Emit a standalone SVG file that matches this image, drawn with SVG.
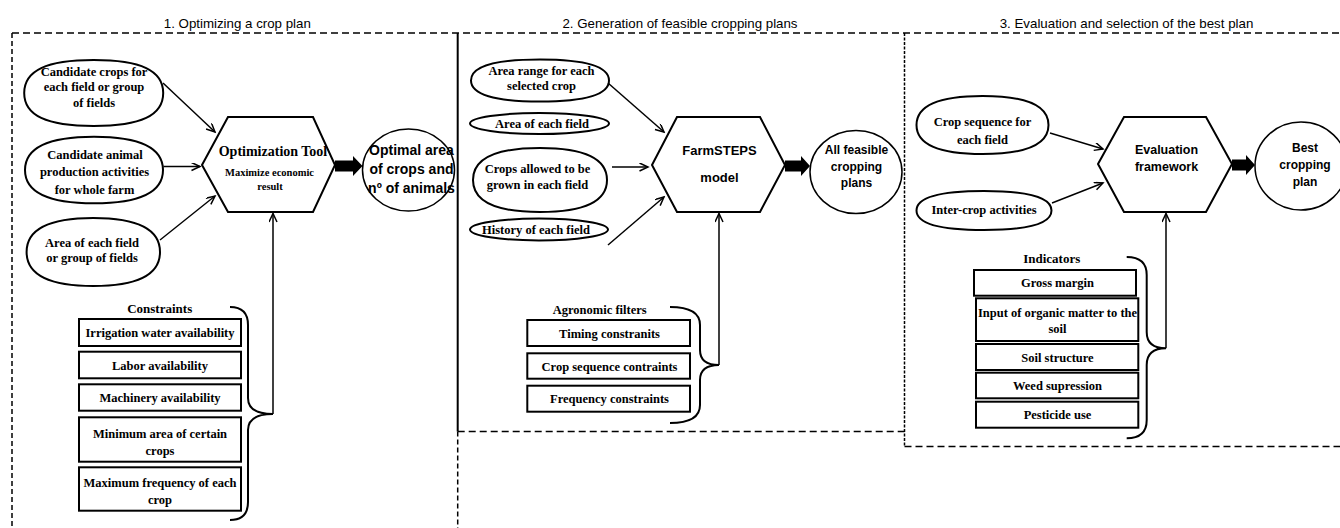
<svg xmlns="http://www.w3.org/2000/svg" width="1340" height="528" viewBox="0 0 1340 528">
<defs>
<marker id="ah" markerWidth="11" markerHeight="10" refX="9" refY="4" orient="auto" markerUnits="userSpaceOnUse"><path d="M0.5,0 L9,4 L0.5,8" fill="none" stroke="#000" stroke-width="1.5"/></marker>
</defs>
<style>
.frame{fill:none;stroke:#000;stroke-width:1.5}
.dh{stroke-dasharray:7 4}
.dv{stroke-dasharray:5 3}
.title{font-family:"Liberation Sans",Arial,sans-serif;font-size:13.3px;text-anchor:middle;fill:#000}
.shape{fill:#fff;stroke:#000;stroke-width:2}
.circ{fill:#fff;stroke:#000;stroke-width:1.5}
.box{fill:#fff;stroke:#000;stroke-width:2}
.st{font-family:"Liberation Serif","Times New Roman",serif;font-weight:bold;font-size:12.5px;text-anchor:middle;fill:#000}
.hd{font-size:13px}
.ss{font-family:"Liberation Sans",Arial,sans-serif;font-weight:bold;text-anchor:middle;fill:#000}
.conn{stroke:#000;stroke-width:1.5;fill:none}
.brace{fill:none;stroke:#000;stroke-width:2}
.thick{fill:#000}
</style>
<rect width="1340" height="528" fill="#fff"/>

<g id="frames">
  <line class="frame dh" x1="12" y1="33" x2="1340" y2="33"/>
  <line class="frame dv" x1="12" y1="33" x2="12" y2="528"/>
  <line class="frame dv" x1="457.7" y1="431.5" x2="457.7" y2="528"/>
  <line x1="457.7" y1="33" x2="457.7" y2="431.5" stroke="#000" stroke-width="2"/>
  <line class="frame dh" x1="457.7" y1="431.5" x2="904.5" y2="431.5"/>
  <line class="frame" x1="904.5" y1="33" x2="904.5" y2="446.5" stroke-dasharray="3 1.5"/>
  <line class="frame dh" x1="904.5" y1="446.5" x2="1340" y2="446.5"/>
</g>

<g id="titles">
  <text class="title" x="237.3" y="27.5">1. Optimizing a crop plan</text>
  <text class="title" x="680" y="27.5">2. Generation of feasible cropping plans</text>
  <text class="title" x="1126.5" y="27.5">3. Evaluation and selection of the best plan</text>
</g>

<!-- Panel 1 -->
<g id="candidate-crops">
  <path class="shape" d="M24.2,93 C24.2,70.56 46.44,60 93.7,60 C140.96,60 163.2,70.56 163.2,93 C163.2,115.44 140.96,126 93.7,126 C46.44,126 24.2,115.44 24.2,93Z"/>
  <text class="st" x="94" y="76">Candidate crops for</text>
  <text class="st" x="94" y="91">each field or group</text>
  <text class="st" x="94" y="106.5">of fields</text>
</g>
<g id="candidate-animal">
  <path class="shape" d="M25,170 C25,148.02 48.46,136.7 94,136.7 C139.54,136.7 163,148.02 163,170 C163,191.98 139.54,203.3 94,203.3 C48.46,203.3 25,191.98 25,170Z"/>
  <text class="st" x="95" y="159">Candidate animal</text>
  <text class="st" x="94.5" y="176">production activities</text>
  <text class="st" x="94.5" y="194">for whole farm</text>
</g>
<g id="area-field-group">
  <path class="shape" d="M26.6,252 C26.6,229.56 49.28,218 93.3,218 C137.32,218 160,229.56 160,252 C160,274.44 137.32,286 93.3,286 C49.28,286 26.6,274.44 26.6,252Z"/>
  <text class="st" x="92" y="246.5">Area of each field</text>
  <text class="st" x="92" y="261.5">or group of fields</text>
</g>
<g id="optimization-tool">
  <polygon class="shape" points="202,165 228,117 313,117 335,165 313,212 228,212"/>
  <text class="st" x="273" y="156" style="font-size:14px">Optimization Tool</text>
  <text class="st" x="269.5" y="176" style="font-size:10.5px">Maximize economic</text>
  <text class="st" x="270" y="189.5" style="font-size:10.5px">result</text>
</g>
<g id="optimal-area">
  <ellipse class="circ" cx="408.5" cy="170" rx="46" ry="41"/>
  <text class="ss" x="411.5" y="155" style="font-size:14px">Optimal area</text>
  <text class="ss" x="411.5" y="174" style="font-size:14px">of crops and</text>
  <text class="ss" x="411.5" y="193" style="font-size:14px">nº of animals</text>
</g>
<g id="constraints">
  <text class="st hd" x="159.7" y="312.7">Constraints</text>
  <rect class="box" x="79" y="319" width="162" height="27"/>
  <text class="st" x="160" y="337">Irrigation water availability</text>
  <rect class="box" x="79" y="351.7" width="162" height="26.6"/>
  <text class="st" x="160" y="369.5">Labor availability</text>
  <rect class="box" x="79" y="384.3" width="162" height="26.4"/>
  <text class="st" x="160" y="402">Machinery availability</text>
  <rect class="box" x="79" y="417.3" width="162" height="44.4"/>
  <text class="st" x="160" y="438">Minimum area of certain</text>
  <text class="st" x="160" y="455">crops</text>
  <rect class="box" x="79" y="467.3" width="162" height="43.4"/>
  <text class="st" x="160" y="487">Maximum frequency of each</text>
  <text class="st" x="160" y="504">crop</text>
  <path class="brace" d="M230,307 Q248,307 248,325 L248,398 Q248,414 273,414 Q248,414 248,430 L248,502 Q248,520 230,520"/>
</g>

<!-- Panel 2 -->
<g id="area-range">
  <path class="shape" d="M471,80.5 C471,66.64 494.46,59.5 540,59.5 C585.54,59.5 609,66.64 609,80.5 C609,94.36 585.54,101.5 540,101.5 C494.46,101.5 471,94.36 471,80.5Z"/>
  <text class="st" x="541.5" y="74.5">Area range for each</text>
  <text class="st" x="541.5" y="90">selected crop</text>
</g>
<g id="area-each-field">
  <ellipse class="shape" cx="539.5" cy="123.5" rx="69.5" ry="10.5"/>
  <text class="st" x="542" y="127.5">Area of each field</text>
</g>
<g id="crops-allowed">
  <path class="shape" d="M473,180 C473,158.88 495.78,148 540,148 C584.22,148 607,158.88 607,180 C607,201.12 584.22,212 540,212 C495.78,212 473,201.12 473,180Z"/>
  <text class="st" x="537.5" y="172.5">Crops allowed to be</text>
  <text class="st" x="537.5" y="189">grown in each field</text>
</g>
<g id="history-field">
  <ellipse class="shape" cx="539" cy="229.5" rx="69" ry="11"/>
  <text class="st" x="536" y="233.8">History of each field</text>
</g>
<g id="farmsteps">
  <polygon class="shape" points="652,165 677,117 760,117 785,165 760,212 677,212"/>
  <text class="ss" x="719.5" y="155" style="font-size:13px">FarmSTEPS</text>
  <text class="ss" x="719.5" y="181.5" style="font-size:13px">model</text>
</g>
<g id="all-feasible">
  <ellipse class="circ" cx="856" cy="172" rx="46" ry="41.5"/>
  <text class="ss" x="856.5" y="154" style="font-size:12px">All feasible</text>
  <text class="ss" x="856.5" y="170.5" style="font-size:12px">cropping</text>
  <text class="ss" x="856.5" y="187" style="font-size:12px">plans</text>
</g>
<g id="agronomic-filters">
  <text class="st" x="599.7" y="314">Agronomic filters</text>
  <rect class="box" x="527.3" y="320" width="162.7" height="26"/>
  <text class="st" x="609.5" y="337.5">Timing constranits</text>
  <rect class="box" x="527.3" y="353.3" width="162.7" height="25.4"/>
  <text class="st" x="609.5" y="370.5">Crop sequence contraints</text>
  <rect class="box" x="527.3" y="385.7" width="162.7" height="26"/>
  <text class="st" x="609.5" y="403">Frequency constraints</text>
  <path class="brace" d="M670,307 Q700,307 700,325 L700,350 Q700,365 719,365 Q700,365 700,380 L700,405 Q700,423 670,423"/>
</g>

<!-- Panel 3 -->
<g id="crop-sequence">
  <path class="shape" d="M916.5,125 C916.5,105.86 938.94,96 982.5,96 C1026.06,96 1048.5,105.86 1048.5,125 C1048.5,144.14 1026.06,154 982.5,154 C938.94,154 916.5,144.14 916.5,125Z"/>
  <text class="st" x="982.5" y="126">Crop sequence for</text>
  <text class="st" x="982.5" y="143.5">each field</text>
</g>
<g id="inter-crop">
  <path class="shape" d="M916.5,210.5 C916.5,197.63 939.45,191 984,191 C1028.55,191 1051.5,197.63 1051.5,210.5 C1051.5,223.37 1028.55,230 984,230 C939.45,230 916.5,223.37 916.5,210.5Z"/>
  <text class="st" x="984" y="214">Inter-crop activities</text>
</g>
<g id="evaluation-framework">
  <polygon class="shape" points="1098,164 1124,117 1206,117 1232,164 1206,212 1124,212"/>
  <text class="ss" x="1166.5" y="154.3" style="font-size:12.5px">Evaluation</text>
  <text class="ss" x="1166.5" y="170.7" style="font-size:12.5px">framework</text>
</g>
<g id="best-plan">
  <ellipse class="circ" cx="1301" cy="166" rx="46" ry="44"/>
  <text class="ss" x="1305" y="152" style="font-size:12px">Best</text>
  <text class="ss" x="1305" y="169" style="font-size:12px">cropping</text>
  <text class="ss" x="1305" y="186" style="font-size:12px">plan</text>
</g>
<g id="indicators">
  <text class="st hd" x="1051.7" y="263.3">Indicators</text>
  <rect class="box" x="974" y="270" width="162" height="25.7"/>
  <text class="st" x="1057.5" y="287.3">Gross margin</text>
  <rect class="box" x="976" y="298.3" width="162.3" height="42.7"/>
  <text class="st" x="1057.5" y="317">Input of organic matter to the</text>
  <text class="st" x="1057.5" y="332.5">soil</text>
  <rect class="box" x="976" y="344" width="162.3" height="26"/>
  <text class="st" x="1057.5" y="361.5">Soil structure</text>
  <rect class="box" x="976" y="372.7" width="162.3" height="25.6"/>
  <text class="st" x="1057.5" y="390">Weed supression</text>
  <rect class="box" x="976" y="401.7" width="162.3" height="26"/>
  <text class="st" x="1057.5" y="419">Pesticide use</text>
  <path class="brace" d="M1126.7,257 Q1146.7,257 1146.7,275 L1146.7,332 Q1146.7,348.3 1166,348.3 Q1146.7,348.3 1146.7,365 L1146.7,420 Q1146.7,438.3 1126.7,438.3"/>
</g>

<g id="connectors">
  <line class="conn" x1="163" y1="83" x2="215" y2="132" marker-end="url(#ah)"/>
  <line class="conn" x1="163.5" y1="166.5" x2="200" y2="166.5" marker-end="url(#ah)"/>
  <line class="conn" x1="160" y1="240" x2="215" y2="196" marker-end="url(#ah)"/>
  <line class="conn" x1="273" y1="414" x2="273" y2="213.5" marker-end="url(#ah)"/>
  <polygon class="thick" points="335,160.5 353,160.5 353,156 362.5,166 353,176 353,171.5 335,171.5"/>

  <line class="conn" x1="608" y1="83" x2="664" y2="132" marker-end="url(#ah)"/>
  <line class="conn" x1="612" y1="167" x2="648" y2="167" marker-end="url(#ah)"/>
  <line class="conn" x1="608" y1="245" x2="664" y2="197" marker-end="url(#ah)"/>
  <line class="conn" x1="719" y1="365" x2="719" y2="213.5" marker-end="url(#ah)"/>
  <polygon class="thick" points="785,160.5 801,160.5 801,156 810,166 801,176 801,171.5 785,171.5"/>

  <line class="conn" x1="1050" y1="133" x2="1103" y2="149" marker-end="url(#ah)"/>
  <line class="conn" x1="1052" y1="203" x2="1103" y2="183" marker-end="url(#ah)"/>
  <line class="conn" x1="1166" y1="348.3" x2="1166" y2="213.5" marker-end="url(#ah)"/>
  <polygon class="thick" points="1232,159.5 1246,159.5 1246,155 1255,165 1246,175 1246,170.5 1232,170.5"/>
</g>
</svg>
